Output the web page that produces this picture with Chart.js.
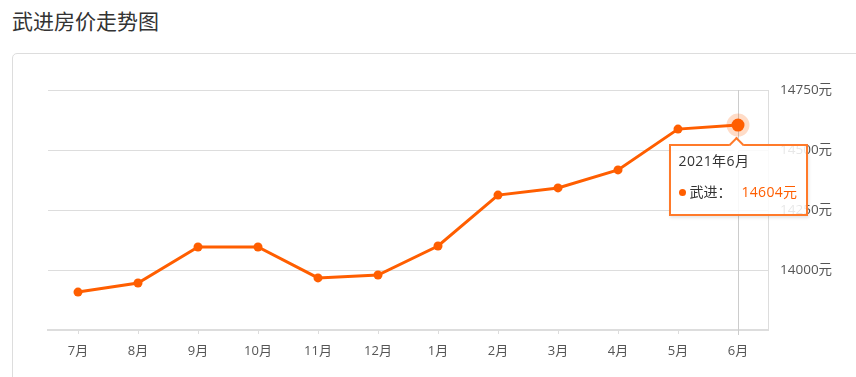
<!DOCTYPE html>
<html>
<head>
<meta charset="utf-8">
<script src="https://cdn.jsdelivr.net/npm/chart.js@4"></script>
<style>
  html, body { margin: 0; padding: 0; background: #fff; width: 856px; height: 377px; overflow: hidden; font-family: "Open Sans", "Noto Sans CJK SC", sans-serif; }
  #title { position: absolute; left: 12px; top: 4px; font-size: 21px; color: #333; line-height: 32px; font-family: "Noto Sans CJK SC", sans-serif; }
  #card { position: absolute; left: 12px; top: 53px; width: 900px; height: 400px; border: 1px solid #ddd; border-radius: 5px; box-sizing: border-box; }
  #wrap { position: absolute; left: 0; top: 0; width: 856px; height: 377px; }
  #tip { position: absolute; display: none; background: rgba(255,255,255,0.86); border: 2px solid #ff7a2a; box-shadow: 1px 2px 3px rgba(0,0,0,0.10); box-sizing: border-box; font-size: 14px; color: #333; }
  #tip .caret { position: absolute; left: 50%; top: -7px; width: 11px; height: 11px; margin-left: -7px; background: #fff; border-left: 2px solid #ff7a2a; border-top: 2px solid #ff7a2a; transform: rotate(45deg); box-sizing: border-box; }
  #tip .t { position: absolute; left: 8px; top: 5px; line-height: 20px; letter-spacing: 0.4px; }
  #tip .r { position: absolute; left: 8px; top: 36px; line-height: 20px; white-space: nowrap; }
  #tip .dot { display: inline-block; width: 7px; height: 7px; border-radius: 50%; background: #ff5e00; margin-right: 4px; vertical-align: 1px; }
  #tip .v { color: #ff5e00; margin-left: 10px; letter-spacing: 0.3px; }
</style>
</head>
<body>
<div id="title">武进房价走势图</div>
<div id="card"></div>
<div id="wrap"><canvas id="c" width="856" height="377"></canvas></div>
<div id="tip"><div class="caret"></div><div class="t"></div><div class="r"><span class="dot"></span><span class="n"></span><span class="v"></span></div></div>
<script>
const categories = ['7月','8月','9月','10月','11月','12月','1月','2月','3月','4月','5月','6月'];
const fullLabels = ['2020年7月','2020年8月','2020年9月','2020年10月','2020年11月','2020年12月','2021年1月','2021年2月','2021年3月','2021年4月','2021年5月','2021年6月'];
const seriesName = '武进';
const prices = [13908, 13946, 14096, 14096, 13967, 13979, 14100, 14312, 14342, 14417, 14587, 14604];
const yTicks = [13750, 14000, 14250, 14500, 14750];
const activeIndex = 11;
const ORANGE = '#ff5e00';
const FONT = '"Open Sans", "Noto Sans CJK SC", sans-serif';

const crosshair = {
  id: 'crosshair',
  beforeDatasetsDraw(chart) {
    const el = chart.getDatasetMeta(0).data[activeIndex];
    if (!el) return;
    const ctx = chart.ctx, a = chart.chartArea;
    ctx.save();
    ctx.strokeStyle = '#cccccc';
    ctx.lineWidth = 1;
    const x = Math.round(el.x) + 0.5;
    ctx.beginPath();
    ctx.moveTo(x, a.top);
    ctx.lineTo(x, a.bottom + 5);
    ctx.stroke();
    ctx.restore();
  }
};

function externalTip(context) {
  const tip = document.getElementById('tip');
  const t = context.tooltip;
  if (!t || t.opacity === 0 || !t.dataPoints || !t.dataPoints.length) { tip.style.display = 'none'; return; }
  const dp = t.dataPoints[0];
  tip.querySelector('.t').textContent = fullLabels[dp.dataIndex];
  tip.querySelector('.n').textContent = seriesName + '：';
  tip.querySelector('.v').textContent = dp.raw + '元';
  const w = 139, h = 72;
  tip.style.width = w + 'px';
  tip.style.height = h + 'px';
  tip.style.left = (dp.element.x - w / 2) + 'px';
  tip.style.top = (dp.element.y + 19) + 'px';
  tip.style.display = 'block';
}

const chart = new Chart(document.getElementById('c'), {
  type: 'line',
  data: {
    labels: categories,
    datasets: [{
      label: seriesName,
      data: prices,
      borderColor: ORANGE,
      backgroundColor: ORANGE,
      borderWidth: 3,
      pointRadius: 4.5,
      pointBackgroundColor: ORANGE,
      pointBorderColor: ORANGE,
      pointBorderWidth: 0,
      pointHoverRadius: 6.5,
      pointHoverBorderWidth: 10,
      pointHoverBorderColor: 'rgba(255,94,0,0.22)',
      pointHoverBackgroundColor: ORANGE,
      tension: 0
    }]
  },
  options: {
    responsive: false,
    animation: false,
    events: [],
    layout: { padding: { left: 48, right: 0, top: 90, bottom: 0 } },
    plugins: {
      legend: { display: false },
      tooltip: { enabled: false, external: externalTip, mode: 'index', intersect: false }
    },
    scales: {
      x: {
        type: 'category',
        offset: true,
        afterFit: s => { s.height = 47; },
        grid: { drawOnChartArea: false, drawTicks: true, tickLength: 4, color: '#dddddd', offset: false },
        border: { display: true, color: '#dddddd', width: 2 },
        ticks: { color: '#555', font: { size: 13, family: FONT }, padding: 9, maxRotation: 0, autoSkip: false }
      },
      y: {
        position: 'right',
        min: yTicks[0],
        max: yTicks[yTicks.length - 1],
        afterFit: s => { s.width = 88; },
        afterBuildTicks: s => { s.ticks = yTicks.map(v => ({ value: v })); },
        grid: { color: '#dddddd', drawTicks: false },
        border: { display: true, color: '#dddddd', width: 1 },
        ticks: {
          color: '#555',
          padding: 12,
          font: { size: 13.5, family: FONT },
          callback: v => v === yTicks[0] ? null : v + '元'
        }
      }
    }
  },
  plugins: [crosshair]
});

const pt = chart.getDatasetMeta(0).data[activeIndex];
chart.setActiveElements([{ datasetIndex: 0, index: activeIndex }]);
chart.tooltip.setActiveElements([{ datasetIndex: 0, index: activeIndex }], { x: pt.x, y: pt.y });
chart.update();
</script>
</body>
</html>
